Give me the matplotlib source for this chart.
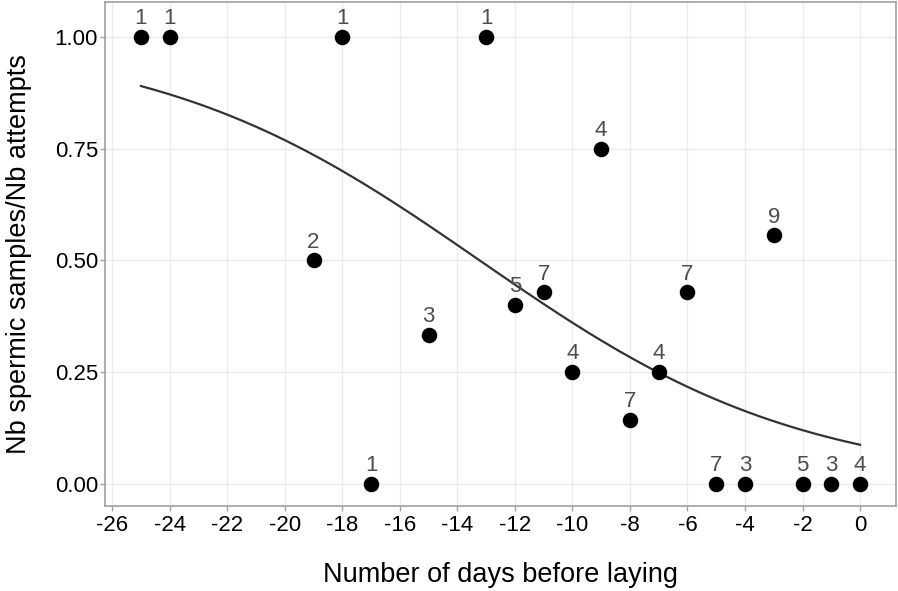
import numpy as np
import matplotlib
matplotlib.use("Agg")
import matplotlib.pyplot as plt

days = [-25, -24, -19, -18, -17, -15, -13, -12, -11, -10, -9, -8, -7, -6, -5, -4, -3, -2, -1, 0]
ratio = [1.0, 1.0, 0.5, 1.0, 0.0, 1/3, 1.0, 0.4, 3/7, 0.25, 0.75, 1/7, 0.25, 3/7, 0.0, 0.0, 5/9, 0.0, 0.0, 0.0]
attempts = [1, 1, 2, 1, 1, 3, 1, 5, 7, 4, 4, 7, 4, 7, 7, 3, 9, 5, 3, 4]
# fitted logistic model
intercept = -2.35
slope = -0.1776
xticks = list(range(-26, 1, 2))
yticks = [0.0, 0.25, 0.5, 0.75, 1.0]

plt.rcParams['font.family'] = ['Liberation Sans', 'DejaVu Sans']
fig = plt.figure(figsize=(8.98, 5.91), dpi=100)
ax = fig.add_axes([0.1169, 0.1438, 0.8809, 0.8528])

xs = np.linspace(-25, 0, 200)
ys = 1 / (1 + np.exp(-(intercept + slope * xs)))
ax.plot(xs, ys, color='#333333', lw=1.6, zorder=3)
ax.scatter(days, ratio, s=125, color='black', zorder=4, linewidths=0)
for x, y, n in zip(days, ratio, attempts):
    ax.annotate(str(n), (x, y), xytext=(0, 5.5), textcoords='offset points',
                ha='center', va='bottom', fontsize=16, color='#4D4D4D', zorder=5)

ax.set_xlim(-26.25, 1.25)
ax.set_ylim(-0.05, 1.078)
ax.set_xticks(xticks)
ax.set_xticklabels([str(t) for t in xticks])
ax.set_yticks(yticks)
ax.set_yticklabels(['%.2f' % t for t in yticks])
ax.grid(True, color='#EBEBEB', lw=1.0)
ax.set_axisbelow(True)
for s in ax.spines.values():
    s.set_color('#A0A0A0')
    s.set_linewidth(1.2)
ax.tick_params(colors='#A0A0A0', labelcolor='black', labelsize=16, length=3.5, width=1, pad=3)
ax.tick_params(axis='y', pad=1.5)
ax.set_xlabel('Number of days before laying', fontsize=19.5, labelpad=19)
ax.set_ylabel('Nb spermic samples/Nb attempts', fontsize=19.5, labelpad=16)
fig.savefig('out.png', dpi=100)
